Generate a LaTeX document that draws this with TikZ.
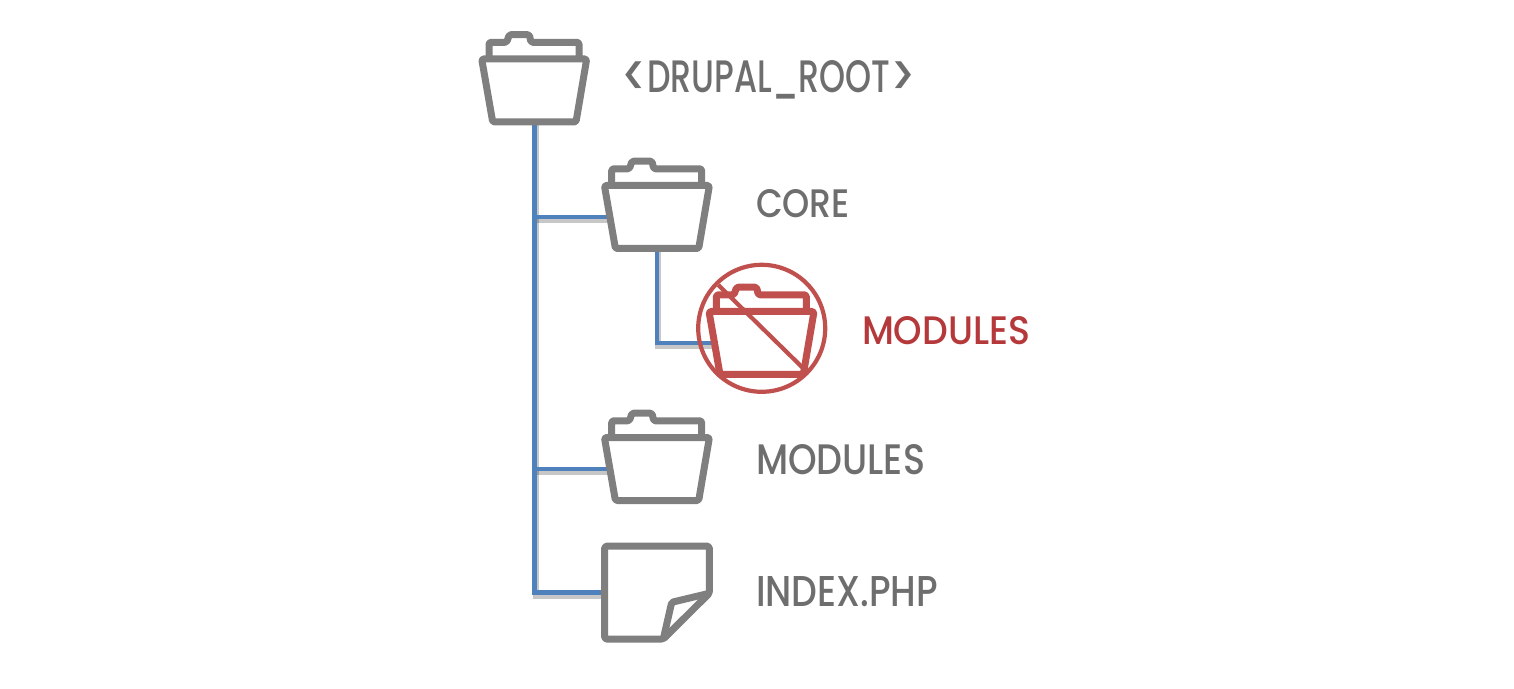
\documentclass[tikz,border=0pt]{standalone}
\usepackage{graphicx}
\usepackage{fontspec}
\setmainfont{Poppins Medium}
\definecolor{fgray}{HTML}{7F7F7F}
\definecolor{tgray}{HTML}{6E6E6E}
\definecolor{lblue}{HTML}{4F81BD}
\definecolor{fred}{HTML}{C0504D}
\definecolor{tred}{HTML}{B5383B}
\tikzset{
  x=0.5pt,y=-0.5pt,
  icon/.style={line width=3.5pt,line join=round,rounded corners=0.8pt},
  bodynode/.style={minimum width=47.5pt,minimum height=31.5pt,inner sep=0pt,outer sep=0pt},
  filenode/.style={minimum width=52.3pt,minimum height=46.4pt,inner sep=0pt,outer sep=0pt},
  wire/.style={line width=2.4pt,lblue,line join=miter},
  wireshade/.style={line width=3pt,black,opacity=0.22,line join=miter},
  lbl/.style={inner sep=0pt,outer sep=0pt,anchor=west},
  off/.style={shift={(1.5,3)}},
  folder/.pic={
    \draw[icon,#1] (-52.5,-31.5) -- (52.5,-31.5) -- (41.8,31.5) -- (-41.5,31.5) -- cycle;
    \draw[icon,#1] (-45.2,-33.5) -- (-45.2,-48.2) -- (-27.5,-48.2) -- (-24.9,-55.8) -- (-4.9,-55.8) -- (-3.2,-48.2) -- (44.8,-48.2) -- (44.8,-33.5);
  }
}
\newcommand{\sizedtext}[3]{\resizebox{#1pt}{#2pt}{#3}}
\begin{document}
\begin{tikzpicture}
\useasboundingbox (0,0) rectangle (1514,689);
% anchor nodes
\node[bodynode] (root) at (534.2,90.5) {};
\node[bodynode] (core) at (656.9,217) {};
\node[bodynode] (bad) at (761.5,343) {};
\node[bodynode] (mods) at (656.9,469) {};
\node[filenode] (file) at (657,592.6) {};
\coordinate (drop) at (534.2,592.6);
\coordinate (jcore) at (root.south |- core.west);
\coordinate (jmods) at (root.south |- mods.west);
\coordinate (jbad) at (core.south |- bad.west);
% connector shadows
\draw[wireshade] ([off]root.south) -- ([off]drop) -- ([off]file.west);
\draw[wireshade] ([off]jcore) -- ([off]core.west);
\draw[wireshade] ([off]jmods) -- ([off]mods.west);
\draw[wireshade] ([off]core.south) -- ([off]jbad) -- ([off]bad.west);
% connectors
\draw[wire] (root.south) -- (drop) -- (file.west);
\draw[wire] (jcore) -- (core.west);
\draw[wire] (jmods) -- (mods.west);
\draw[wire] (core.south) -- (jbad) -- (bad.west);
% icons
\fill[white] (root.north west) rectangle (root.south east);
\fill[white] (core.north west) rectangle (core.south east);
\fill[white] (mods.north west) rectangle (mods.south east);
\fill[white] (file.north west) rectangle (file.south east);
\pic at (root) {folder=fgray};
\pic at (core) {folder=fgray};
\pic at (mods) {folder=fgray};
\pic at (bad) {folder=fred};
\draw[icon,fgray] (file.north west) -- (file.north east) -- (709.3,593.3) -- (663.3,639) -- (file.south west) -- cycle;
\draw[icon,fgray] (663.3,639) -- (671.7,602.3) -- (709.3,593.3);
\node[draw=fred,line width=2.1pt,circle,minimum size=63.5pt,inner sep=0pt] (ban) at (761.7,328.3) {};
\draw[fred,line width=2.1pt] (718.3,285) -- (805,370);
% labels
\node[lbl,tgray] (lroot) at (621,80) {\sizedtext{147.5}{16}{\raisebox{-0.08em}{\scalebox{1.3}{<}}DRUPAL\_ROOT\raisebox{-0.08em}{\scalebox{1.3}{>}}}};
\node[lbl,tgray] (lcore) at (756,204) {\sizedtext{47}{14}{CORE}};
\node[lbl,tred] (lbad) at (862,331) {\sizedtext{84}{14}{MODULES}};
\node[lbl,tgray] (lmods) at (756,460) {\sizedtext{84.5}{15}{MODULES}};
\node[lbl,tgray] (lfile) at (756,592) {\sizedtext{91}{15}{INDEX.PHP}};
\end{tikzpicture}
\end{document}
